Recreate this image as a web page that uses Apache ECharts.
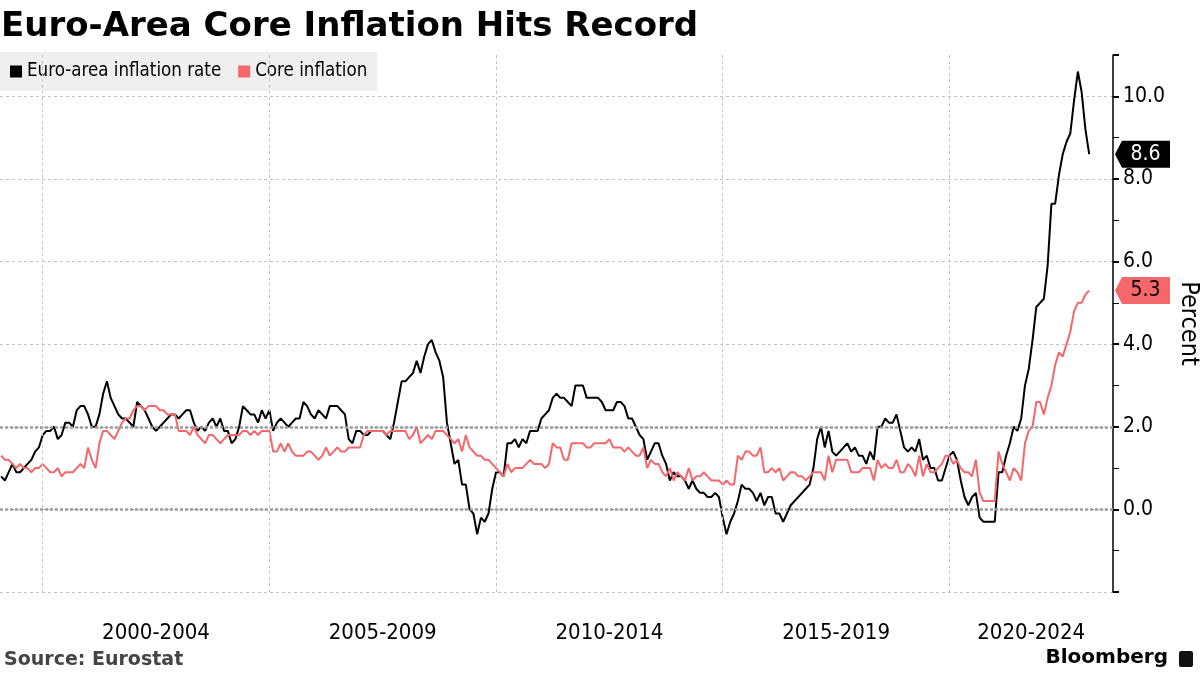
<!DOCTYPE html>
<html>
<head>
<meta charset="utf-8">
<script src="https://cdn.jsdelivr.net/npm/echarts@6/dist/echarts.min.js"></script>
<style>
html,body{margin:0;padding:0;background:#ffffff;}
#chart{width:1200px;height:675px;}
</style>
</head>
<body>
<div id="chart"></div>
<script>
// ---------------- DATA ----------------
// Monthly year-on-year rates, Jan 1999 .. Jan 2023 (index 0 = Jan 1999)
const startYear = 1999;

const headline = [
  // 1999
  0.8,0.7,0.9,1.1,0.9,0.9,1.0,1.1,1.2,1.4,1.5,1.8,
  // 2000
  1.9,1.9,2.0,1.7,1.8,2.1,2.1,2.0,2.4,2.5,2.5,2.3,
  // 2001
  2.0,2.0,2.3,2.8,3.1,2.7,2.5,2.3,2.2,2.2,2.1,2.0,
  // 2002
  2.6,2.5,2.4,2.2,2.0,1.9,2.0,2.1,2.2,2.3,2.3,2.2,
  // 2003
  2.3,2.4,2.4,2.1,1.9,2.0,1.9,2.1,2.2,2.0,2.2,1.9,
  // 2004
  1.9,1.6,1.7,2.0,2.5,2.4,2.3,2.3,2.1,2.4,2.2,2.4,
  // 2005
  1.9,2.1,2.2,2.1,2.0,2.1,2.2,2.2,2.6,2.5,2.3,2.2,
  // 2006
  2.4,2.3,2.2,2.5,2.5,2.5,2.4,2.3,1.7,1.6,1.9,1.9,
  // 2007
  1.8,1.8,1.9,1.9,1.9,1.9,1.8,1.7,2.1,2.6,3.1,3.1,
  // 2008
  3.2,3.3,3.6,3.3,3.7,4.0,4.1,3.8,3.6,3.2,2.1,1.6,
  // 2009
  1.1,1.2,0.6,0.6,0.0,-0.1,-0.6,-0.2,-0.3,-0.1,0.5,0.9,
  // 2010
  0.9,0.8,1.6,1.6,1.7,1.5,1.7,1.6,1.9,1.9,1.9,2.2,
  // 2011
  2.3,2.4,2.7,2.8,2.7,2.7,2.6,2.5,3.0,3.0,3.0,2.7,
  // 2012
  2.7,2.7,2.7,2.6,2.4,2.4,2.4,2.6,2.6,2.5,2.2,2.2,
  // 2013
  2.0,1.8,1.7,1.2,1.4,1.6,1.6,1.3,1.1,0.7,0.9,0.8,
  // 2014
  0.8,0.7,0.5,0.7,0.5,0.4,0.4,0.3,0.3,0.4,0.3,-0.2,
  // 2015
  -0.6,-0.3,-0.1,0.2,0.6,0.5,0.5,0.4,0.2,0.4,0.1,0.3,
  // 2016
  0.3,-0.1,-0.1,-0.3,-0.1,0.1,0.2,0.3,0.4,0.5,0.6,1.0,
  // 2017
  1.7,2.0,1.5,1.9,1.4,1.3,1.4,1.5,1.6,1.4,1.5,1.3,
  // 2018
  1.3,1.1,1.4,1.2,2.0,2.0,2.2,2.1,2.1,2.3,1.9,1.5,
  // 2019
  1.4,1.5,1.4,1.7,1.2,1.3,1.0,1.0,0.7,0.7,1.0,1.3,
  // 2020
  1.4,1.2,0.7,0.3,0.1,0.3,0.4,-0.2,-0.3,-0.3,-0.3,-0.3,
  // 2021
  0.9,0.9,1.3,1.6,2.0,1.9,2.2,3.0,3.4,4.1,4.9,5.0,
  // 2022
  5.1,5.9,7.4,7.4,8.1,8.6,8.9,9.1,9.9,10.6,10.1,9.2,
  // 2023
  8.6
];

const core = [
  // 1999
  1.3,1.2,1.2,1.1,1.0,1.1,1.0,1.0,0.9,1.0,1.0,1.1,
  // 2000
  1.0,0.9,0.9,1.0,0.8,0.9,0.9,0.9,1.0,1.1,1.0,1.5,
  // 2001
  1.2,1.0,1.6,1.9,1.9,1.8,1.7,1.9,2.1,2.2,2.2,2.4,
  // 2002
  2.5,2.5,2.4,2.5,2.5,2.5,2.4,2.4,2.3,2.3,2.3,1.9,
  // 2003
  1.9,1.9,1.8,2.0,1.8,1.7,1.6,1.8,1.8,1.7,1.6,1.7,
  // 2004
  1.8,1.8,1.8,1.8,1.9,1.9,1.8,1.9,1.8,1.9,1.9,1.9,
  // 2005
  1.4,1.4,1.6,1.4,1.6,1.4,1.3,1.3,1.3,1.4,1.4,1.3,
  // 2006
  1.2,1.3,1.5,1.3,1.4,1.5,1.4,1.4,1.5,1.5,1.5,1.5,
  // 2007
  1.8,1.9,1.9,1.9,1.9,1.9,1.8,1.9,1.9,1.9,1.9,1.9,
  // 2008
  1.7,1.8,2.0,1.6,1.7,1.8,1.7,1.9,1.9,1.9,1.8,1.7,
  // 2009
  1.6,1.7,1.4,1.8,1.5,1.4,1.3,1.3,1.2,1.2,1.1,1.0,
  // 2010
  0.9,0.8,1.1,0.9,1.0,1.0,1.0,1.1,1.2,1.1,1.1,1.1,
  // 2011
  1.0,1.1,1.6,1.5,1.5,1.2,1.2,1.6,1.6,1.6,1.6,1.5,
  // 2012
  1.5,1.6,1.6,1.6,1.6,1.7,1.5,1.5,1.5,1.4,1.5,1.4,
  // 2013
  1.3,1.3,1.5,1.0,1.2,1.1,1.1,0.9,0.8,1.0,0.7,0.9,
  // 2014
  0.8,0.7,1.0,0.7,0.8,0.8,0.9,0.8,0.7,0.7,0.7,0.6,
  // 2015
  0.7,0.6,0.6,1.3,1.2,1.4,1.4,1.3,1.3,1.5,0.9,0.9,
  // 2016
  1.0,0.9,1.0,0.7,0.8,0.9,0.9,0.8,0.8,0.7,0.8,0.9,
  // 2017
  0.9,0.9,0.7,1.3,0.9,1.2,1.2,1.2,1.2,0.9,0.9,0.9,
  // 2018
  1.0,1.0,1.0,0.7,1.2,1.0,1.1,1.0,1.0,1.2,0.9,0.9,
  // 2019
  1.1,1.0,0.8,1.3,0.8,1.1,0.9,0.9,1.0,1.1,1.3,1.3,
  // 2020
  1.1,1.2,1.0,0.9,0.9,0.8,1.2,0.4,0.2,0.2,0.2,0.2,
  // 2021
  1.4,1.1,0.9,0.7,1.0,0.9,0.7,1.6,1.9,2.0,2.6,2.6,
  // 2022
  2.3,2.7,3.0,3.5,3.8,3.7,4.0,4.3,4.8,5.0,5.0,5.2,
  // 2023
  5.3
];

const seriesNames = ['Euro-area inflation rate', 'Core inflation'];
const periodLabels = ['2000-2004', '2005-2009', '2010-2014', '2015-2019', '2020-2024'];
const periodStartYears = [2000, 2005, 2010, 2015, 2020];
const yMin = -2, yMax = 11, yInterval = 2;
const titleText = 'Euro-Area Core Inflation Hits Record';
const yAxisName = 'Percent';
const sourceText = 'Source: Eurostat';

// ---------------- CHART ----------------
const FONT = "'DejaVu Sans Condensed', 'DejaVu Sans', sans-serif";
const BLACK = '#000000';
const RED = '#f4676a';

// x values: month index, month-end positioning (year boundary = index of previous December)
const xMin = -0.3, xMax = 294.3;
const boundaryIdx = periodStartYears.map(y => (y - startYear) * 12 - 1);
const labelPos = boundaryIdx.map((b, k) => k < boundaryIdx.length - 1 ? (b + boundaryIdx[k + 1]) / 2 : (b + xMax) / 2);

const headData = headline.map((v, i) => [i, v]);
const coreData = core.map((v, i) => [i, v]);

function endTag(color, textColor, value) {
  return {
    symbol: 'path://M0,13.5L7,0L55,0L55,27L7,27Z',
    symbolSize: [55, 27],
    symbolOffset: [29.5, 0],
    symbolKeepAspect: false,
    silent: true,
    animation: false,
    itemStyle: { color: color },
    label: {
      show: true, position: 'inside', offset: [3, 0],
      color: textColor, fontSize: 21, fontFamily: FONT,
      formatter: p => Number(p.value).toFixed(1)
    },
    data: [{ coord: [xMax, value], value: value }]
  };
}

const gridLineStyle = { color: '#c4c4c4', type: [3, 3], width: 1 };
const zeroLineStyle = { color: '#9c9c9c', type: [3, 2], width: 2.5 };

const chart = echarts.init(document.getElementById('chart'), null, { renderer: 'canvas' });
chart.setOption({
  animation: false,
  backgroundColor: '#ffffff',
  title: {
    text: titleText, left: 1, top: 10, padding: 0,
    textStyle: { fontFamily: 'DejaVu Sans', fontWeight: 'bold', fontSize: 34, color: '#000' }
  },
  legend: {
    left: 0, top: 52, padding: [10, 10, 10, 10],
    backgroundColor: '#efefef',
    itemWidth: 12, itemHeight: 12, itemGap: 17, icon: 'rect',
    textStyle: { fontSize: 18.6, color: '#000', fontFamily: FONT },
    data: seriesNames
  },
  grid: { left: 0, right: 87, top: 55, bottom: 83, containLabel: false, outerBoundsMode: 'none' },
  xAxis: {
    type: 'value', min: xMin, max: xMax,
    axisLine: { show: false }, axisTick: { show: false }, splitLine: { show: false },
    axisLabel: {
      customValues: labelPos,
      margin: 30, fontSize: 22, color: '#000', fontFamily: FONT,
      formatter: v => { const k = labelPos.findIndex(p => Math.abs(p - v) < 0.01); return k >= 0 ? periodLabels[k] : ''; }
    }
  },
  yAxis: {
    type: 'value', position: 'right', min: yMin, max: yMax, interval: yInterval,
    axisLine: { show: true, onZero: false, lineStyle: { color: '#000', width: 1.5 } },
    axisTick: { show: true, length: 6, lineStyle: { color: '#000', width: 2 } },
    minorTick: { show: true, splitNumber: 2, length: 6, lineStyle: { color: '#000', width: 1 } },
    splitLine: { show: true, showMaxLine: false, lineStyle: gridLineStyle },
    axisLabel: {
      margin: 10, fontSize: 21, color: '#000', fontFamily: FONT,
      formatter: v => (v > yMin && Math.abs(Math.round(v) % 2) === 0) ? v.toFixed(1) : ''
    },
    name: yAxisName, nameLocation: 'middle', nameRotate: -90, nameGap: 57,
    nameTextStyle: { fontSize: 25, color: '#000', fontFamily: FONT }
  },
  series: [
    {
      name: '__grid', type: 'line', data: [], z: 1, silent: true,
      markLine: {
        silent: true, symbol: 'none', animation: false, label: { show: false },
        data: boundaryIdx.map(b => ({ xAxis: b, lineStyle: gridLineStyle }))
          .concat([{ yAxis: 0, lineStyle: zeroLineStyle }, { yAxis: 2, lineStyle: zeroLineStyle }])
      }
    },
    {
      name: seriesNames[0], type: 'line', data: headData, z: 3,
      showSymbol: false, symbol: 'none',
      lineStyle: { color: BLACK, width: 2 }, itemStyle: { color: BLACK },
      markPoint: endTag(BLACK, '#fff', headline[headline.length - 1])
    },
    {
      name: seriesNames[1], type: 'line', data: coreData, z: 4,
      showSymbol: false, symbol: 'none',
      lineStyle: { color: RED, width: 2 }, itemStyle: { color: RED },
      markPoint: endTag(RED, '#000', core[core.length - 1])
    }
  ],
  graphic: [
    { type: 'text', left: 4, top: 651, style: { text: sourceText, font: "bold 19px 'DejaVu Sans'", fill: '#444' } },
    { type: 'text', right: 32, top: 648, style: { text: 'Bloomberg', font: "bold 20px 'DejaVu Sans'", fill: '#000' } },
    { type: 'rect', right: 7, top: 651, shape: { width: 14, height: 16, r: 2 }, style: { fill: '#111' } }
  ]
});
</script>
</body>
</html>
